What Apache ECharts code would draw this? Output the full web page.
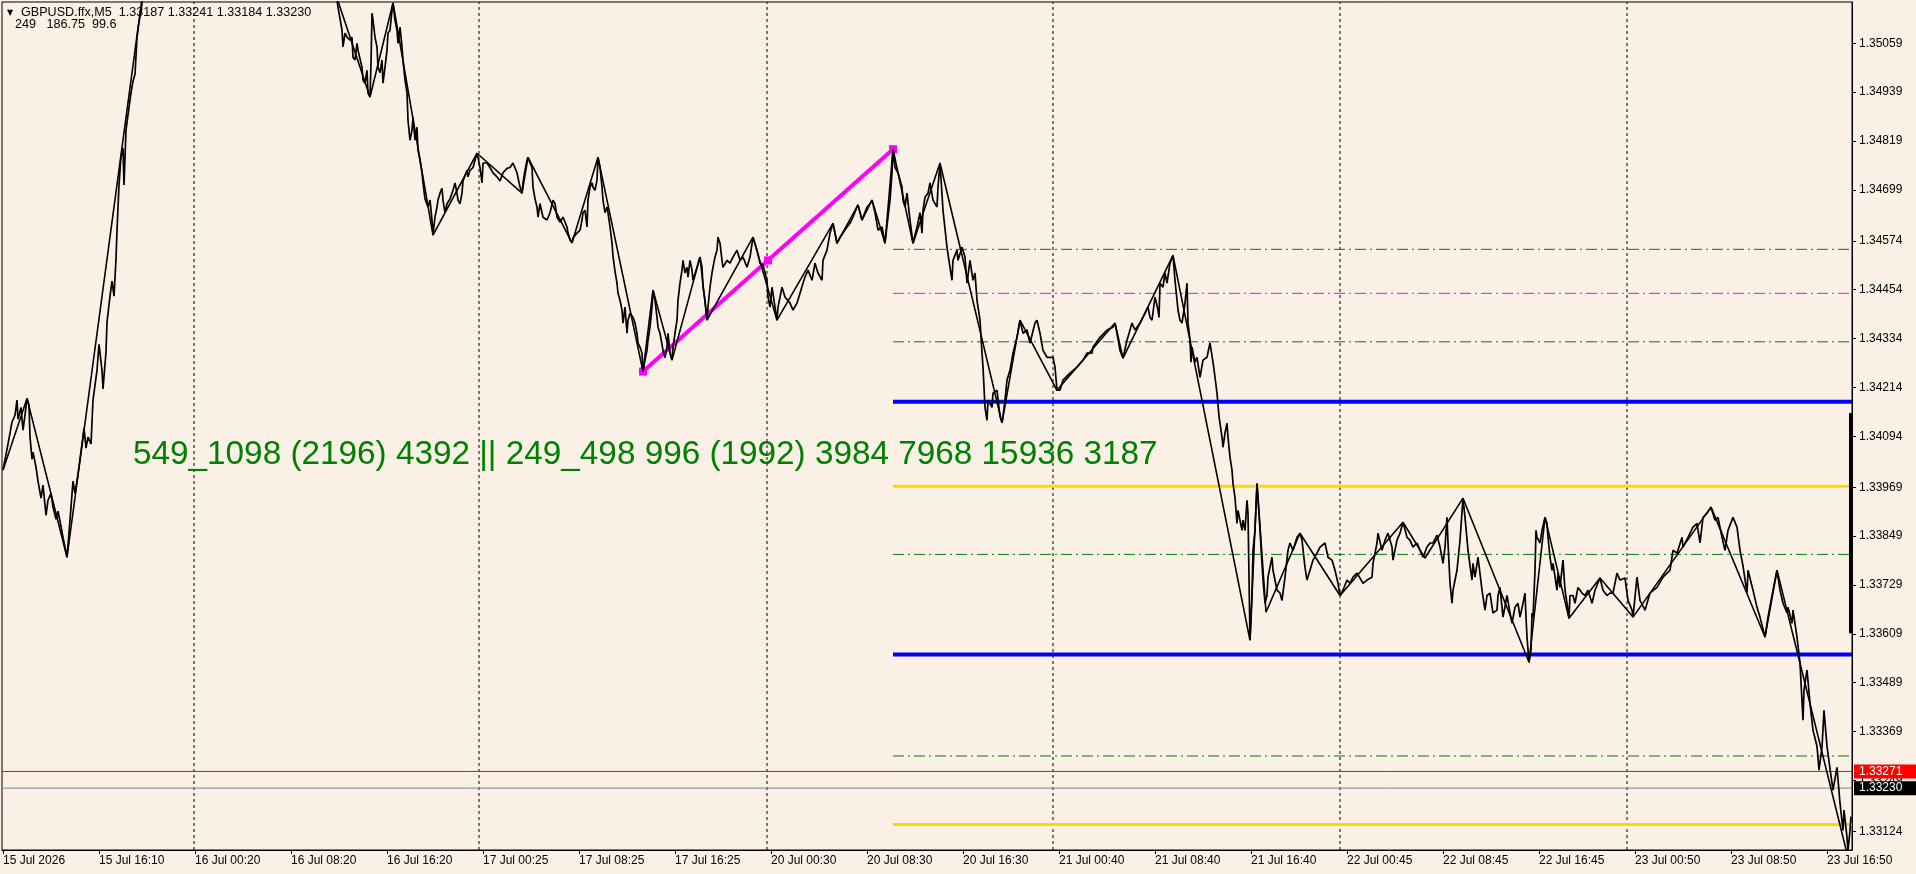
<!DOCTYPE html>
<html><head><meta charset="utf-8">
<script src="https://cdn.jsdelivr.net/npm/echarts@6/dist/echarts.min.js"></script>
<style>html,body{margin:0;padding:0;background:#faf0e6;}#c{width:1916px;height:874px;}</style>
</head><body><div id="c"></div><script>
// ---- data ----
const timeLabels = ["15 Jul 2026","15 Jul 16:10","16 Jul 00:20","16 Jul 08:20","16 Jul 16:20","17 Jul 00:25","17 Jul 08:25","17 Jul 16:25","20 Jul 00:30","20 Jul 08:30","20 Jul 16:30","21 Jul 00:40","21 Jul 08:40","21 Jul 16:40","22 Jul 00:45","22 Jul 08:45","22 Jul 16:45","23 Jul 00:50","23 Jul 08:50","23 Jul 16:50"];
const timeTickBars = [0,96,192,288,384,480,576,672,768,864,960,1056,1152,1248,1344,1440,1536,1632,1728,1824];
const priceTicks = [1.35059,1.34939,1.34819,1.34699,1.34574,1.34454,1.34334,1.34214,1.34094,1.33969,1.33849,1.33729,1.33609,1.33489,1.33369,1.33249,1.33124];
const dayGridBars = [191,476,764,1050,1337,1624];
const headerLine1 = "GBPUSD.ffx,M5  1.33187 1.33241 1.33184 1.33230";
const headerLine2 = "249   186.75  99.6";
const bigText = "549_1098 (2196) 4392 || 249_498 996 (1992) 3984 7968 15936 3187";

const priceLine = [
[0,1.34011],[5,1.34075],[9,1.34129],[12,1.34146],[14,1.34183],[15,1.34136],[18,1.34165],[20,1.34109],[22,1.34146],[24,1.34187],[26,1.34170],[27,1.34092],[29,1.34038],[30,1.34055],[33,1.34018],[35,1.33984],[38,1.33942],[40,1.33974],[43,1.33900],[45,1.33937],[48,1.33954],[50,1.33920],[53,1.33890],[55,1.33910],[58,1.33873],[60,1.33846],[64,1.33797],[67,1.33888],[70,1.33984],[72,1.33954],[75,1.34001],[79,1.34075],[81,1.34114],[83,1.34065],[85,1.34092],[88,1.34075],[90,1.34183],[94,1.34256],[96,1.34320],[99,1.34256],[100,1.34210],[103,1.34301],[104,1.34374],[107,1.34438],[109,1.34475],[111,1.34438],[113,1.34529],[114,1.34600],[116,1.34711],[118,1.34782],[120,1.34802],[121,1.34711],[123,1.34846],[125,1.34883],[128,1.34937],[130,1.34966],[132,1.34983],[133,1.35028],[134,1.35074],[136,1.35111],[138,1.35138],[140,1.35177],
[150,1.35400],[165,1.35680],[180,1.35950],[195,1.36194],[210,1.36000],[230,1.35850],[250,1.35920],[270,1.35780],[290,1.35650],[310,1.35480],[325,1.35300],
[334,1.35165],[335,1.35148],[339,1.35091],[340,1.35050],[342,1.35084],[344,1.35074],[347,1.35067],[349,1.35074],[350,1.35025],[352,1.35018],[354,1.35059],[355,1.35042],[359,1.35000],[360,1.34969],[362,1.34961],[364,1.34993],[365,1.34937],[367,1.34927],[368,1.35010],[369,1.35133],[370,1.35116],[372,1.35074],[374,1.35050],[375,1.35000],[377,1.34987],[379,1.35018],[380,1.34961],[382,1.35000],[384,1.35042],[385,1.35084],[387,1.35091],[389,1.35140],[390,1.35158],[392,1.35116],[394,1.35091],[395,1.35059],[397,1.35099],[399,1.35050],[400,1.35018],[402,1.34969],[404,1.34937],[405,1.34870],[407,1.34821],[409,1.34846],[410,1.34878],[412,1.34821],[414,1.34853],[415,1.34797],[417,1.34772],[419,1.34741],[420,1.34716],[422,1.34677],[424,1.34674],[425,1.34657],[427,1.34674],[429,1.34625],[430,1.34588],[432,1.34632],[434,1.34657],[435,1.34674],[437,1.34691],[439,1.34703],[440,1.34674],[442,1.34643],[444,1.34665],[447,1.34677],[450,1.34698],[452,1.34716],[454,1.34691],[455,1.34674],[457,1.34665],[459,1.34691],[460,1.34721],[464,1.34747],[465,1.34731],[467,1.34747],[470,1.34754],[474,1.34789],[475,1.34779],[477,1.34754],[479,1.34716],[480,1.34765],[484,1.34765],[487,1.34754],[490,1.34741],[494,1.34731],[497,1.34721],[500,1.34741],[504,1.34752],[507,1.34754],[510,1.34765],[512,1.34765],[514,1.34741],[517,1.34706],[519,1.34691],[520,1.34716],[522,1.34747],[524,1.34772],[525,1.34779],[527,1.34765],[529,1.34754],[530,1.34706],[532,1.34677],[534,1.34657],[535,1.34632],[537,1.34665],[539,1.34643],[540,1.34632],[544,1.34625],[547,1.34643],[550,1.34674],[552,1.34665],[554,1.34632],[557,1.34620],[560,1.34632],[564,1.34608],[565,1.34593],[567,1.34576],[569,1.34569],[570,1.34581],[574,1.34593],[577,1.34600],[579,1.34625],[580,1.34643],[582,1.34649],[584,1.34608],[585,1.34674],[587,1.34706],[589,1.34716],[590,1.34706],[592,1.34698],[594,1.34723],[595,1.34779],[597,1.34754],[599,1.34706],[600,1.34674],[602,1.34643],[604,1.34657],[605,1.34643],[607,1.34608],[609,1.34569],[610,1.34536],[612,1.34499],[614,1.34470],[615,1.34445],[617,1.34428],[619,1.34404],[620,1.34372],[622,1.34411],[624,1.34347],[625,1.34379],[627,1.34396],[630,1.34386],[632,1.34372],[634,1.34347],[635,1.34323],[637,1.34313],[639,1.34298],[640,1.34253],[642,1.34281],[644,1.34305],[645,1.34330],[647,1.34362],[649,1.34411],[650,1.34453],[652,1.34428],[654,1.34386],[655,1.34362],[657,1.34347],[660,1.34305],[662,1.34287],[664,1.34313],[665,1.34347],[667,1.34298],[669,1.34281],[670,1.34313],[672,1.34347],[674,1.34379],[675,1.34428],[677,1.34470],[679,1.34502],[680,1.34526],[682,1.34495],[684,1.34509],[685,1.34485],[687,1.34526],[689,1.34502],[690,1.34477],[694,1.34509],[697,1.34534],[699,1.34509],[700,1.34460],[702,1.34428],[704,1.34379],[705,1.34411],[707,1.34460],[709,1.34495],[710,1.34509],[712,1.34534],[714,1.34551],[715,1.34583],[717,1.34568],[719,1.34526],
[720,1.34509],[724,1.34526],[727,1.34519],[730,1.34534],[734,1.34551],[737,1.34526],[740,1.34534],[744,1.34509],[747,1.34534],[750,1.34583],[754,1.34551],[757,1.34519],[760,1.34514],[764,1.34477],[765,1.34436],[767,1.34411],[769,1.34460],[772,1.34411],[774,1.34379],[775,1.34411],[779,1.34460],[782,1.34436],[787,1.34421],[790,1.34404],[794,1.34421],[797,1.34445],[800,1.34470],[802,1.34485],[805,1.34502],[809,1.34477],[812,1.34519],[815,1.34495],[819,1.34477],[820,1.34526],[824,1.34551],[827,1.34593],[830,1.34617],[834,1.34568],[837,1.34583],[840,1.34593],[844,1.34608],[847,1.34617],[850,1.34632],[854,1.34657],[855,1.34662],[859,1.34625],[864,1.34657],[867,1.34665],[869,1.34674],[872,1.34643],[875,1.34600],[879,1.34608],[882,1.34568],[885,1.34632],[887,1.34674],[889,1.34741],[890,1.34799],[892,1.34754],[895,1.34741],[899,1.34706],[900,1.34674],[902,1.34657],[904,1.34691],[907,1.34625],[910,1.34568],[914,1.34608],[917,1.34643],[919,1.34593],[920,1.34649],[922,1.34681],[925,1.34691],[927,1.34716],[930,1.34674],[934,1.34657],[935,1.34706],[937,1.34765],[940,1.34649],[944,1.34558],[947,1.34509],[949,1.34477],[950,1.34526],[954,1.34551],[955,1.34526],[959,1.34558],[962,1.34534],[964,1.34470],[967,1.34526],[970,1.34477],[972,1.34495],[974,1.34428],[977,1.34379],[979,1.34298],[980,1.34264],[982,1.34165],[984,1.34133],[985,1.34183],[989,1.34165],[990,1.34200],[994,1.34207],[997,1.34143],[999,1.34127],[1000,1.34143],[1002,1.34183],[1004,1.34232],[1007,1.34256],[1010,1.34298],[1014,1.34337],[1017,1.34379],[1020,1.34347],[1024,1.34355],[1027,1.34323],[1032,1.34372],[1034,1.34379],[1037,1.34347],[1040,1.34305],[1044,1.34288],[1050,1.34288],[1052,1.34264],[1054,1.34207],[1057,1.34207],[1060,1.34232],[1067,1.34249],[1074,1.34264],[1080,1.34281],[1084,1.34298],[1089,1.34298],[1090,1.34313],[1097,1.34337],[1104,1.34355],[1110,1.34362],[1112,1.34372],[1114,1.34347],[1117,1.34305],[1120,1.34286],[1124,1.34330],[1129,1.34372],[1132,1.34355],[1137,1.34372],[1142,1.34396],[1145,1.34411],[1147,1.34386],[1149,1.34379],[1152,1.34436],[1155,1.34404],[1156,1.34386],[1157,1.34470],[1160,1.34460],[1162,1.34495],[1164,1.34470],[1167,1.34519],[1170,1.34538],[1172,1.34477],[1175,1.34404],[1177,1.34379],[1179,1.34372],[1182,1.34421],[1184,1.34470],[1185,1.34372],[1187,1.34330],[1188,1.34276],[1189,1.34313],[1192,1.34276],[1194,1.34288],[1197,1.34239],[1200,1.34281],[1204,1.34288],[1207,1.34323],[1210,1.34276],[1212,1.34239],[1214,1.34200],[1216,1.34143],[1219,1.34092],[1220,1.34067],[1222,1.34102],[1224,1.34126],[1225,1.34092],[1227,1.34043],[1229,1.34011],[1230,1.33978],[1232,1.33944],[1234,1.33880],[1235,1.33912],[1239,1.33863],[1240,1.33888],[1242,1.33863],[1244,1.33937],[1245,1.33905],[1247,1.33593],[1249,1.33703],[1250,1.33814],[1252,1.33863],[1254,1.33978],[1256,1.33905],[1259,1.33782],[1260,1.33741],[1262,1.33684],[1264,1.33703],[1265,1.33748],[1269,1.33797],[1270,1.33765],[1274,1.33716],[1277,1.33709],[1279,1.33691],[1282,1.33748],[1285,1.33814],[1287,1.33832],[1290,1.33814],[1294,1.33846],[1297,1.33856],[1299,1.33839],[1302,1.33772],[1304,1.33741],[1307,1.33765],[1310,1.33790],[1314,1.33807],[1317,1.33822],[1322,1.33832],[1325,1.33797],[1329,1.33790],[1332,1.33765],[1335,1.33733],[1337,1.33703],[1340,1.33716],[1344,1.33741],[1347,1.33733],[1350,1.33748],[1354,1.33758],[1360,1.33733],[1364,1.33741],[1369,1.33748],[1370,1.33782],[1374,1.33832],[1375,1.33856],[1379,1.33814],[1382,1.33839],[1385,1.33856],[1389,1.33822],[1390,1.33790],[1394,1.33839],[1397,1.33856],[1400,1.33883],[1404,1.33846],[1407,1.33839],[1410,1.33822],[1414,1.33832],[1417,1.33814],[1420,1.33797],[1424,1.33822],[1427,1.33832],[1430,1.33832],[1434,1.33851],[1437,1.33822],[1440,1.33782],[1442,1.33822],[1444,1.33895],[1445,1.33832],[1447,1.33733],[1449,1.33684],[1450,1.33716],[1454,1.33765],[1457,1.33839],[1460,1.33942],[1462,1.33895],[1465,1.33814],[1469,1.33741],[1470,1.33782],[1472,1.33748],[1475,1.33797],[1479,1.33716],[1482,1.33667],[1484,1.33703],[1487,1.33709],[1490,1.33660],[1494,1.33667],[1495,1.33703],[1497,1.33723],[1500,1.33650],[1504,1.33703],[1507,1.33660],[1509,1.33635],[1512,1.33674],[1515,1.33684],[1517,1.33650],[1520,1.33684],[1522,1.33709],[1523,1.33650],[1524,1.33601],[1526,1.33539],[1528,1.33569],[1529,1.33660],[1530,1.33650],[1532,1.33765],[1533,1.33863],[1534,1.33846],[1537,1.33832],[1539,1.33863],[1542,1.33895],[1544,1.33880],[1545,1.33846],[1547,1.33797],[1549,1.33765],[1550,1.33782],[1554,1.33716],[1555,1.33758],[1557,1.33723],[1560,1.33790],[1562,1.33716],[1565,1.33667],[1566,1.33647],[1567,1.33703],[1570,1.33703],[1572,1.33684],[1575,1.33723],[1579,1.33709],[1582,1.33703],[1585,1.33716],[1589,1.33684],[1592,1.33716],[1597,1.33746],[1600,1.33716],[1604,1.33703],[1607,1.33709],[1610,1.33709],[1614,1.33758],[1617,1.33741],[1622,1.33746],[1625,1.33691],[1629,1.33667],[1630,1.33650],[1634,1.33748],[1637,1.33691],[1642,1.33667],[1647,1.33709],[1654,1.33723],[1660,1.33748],[1664,1.33758],[1667,1.33765],[1670,1.33814],[1674,1.33807],[1679,1.33846],[1680,1.33822],[1685,1.33846],[1690,1.33871],[1694,1.33880],[1697,1.33832],[1700,1.33895],[1704,1.33905],[1708,1.33920],[1712,1.33888],[1715,1.33895],[1719,1.33846],[1722,1.33814],[1725,1.33863],[1730,1.33895],[1734,1.33871],[1737,1.33814],[1740,1.33776],[1744,1.33709],[1745,1.33765],[1750,1.33716],[1754,1.33674],[1757,1.33650],[1762,1.33601],[1765,1.33650],[1769,1.33703],[1774,1.33765],[1777,1.33716],[1780,1.33684],[1784,1.33660],[1785,1.33674],[1789,1.33635],[1790,1.33667],[1794,1.33601],[1797,1.33537],[1800,1.33397],[1801,1.33470],[1804,1.33520],[1807,1.33438],[1810,1.33372],[1814,1.33333],[1816,1.33274],[1819,1.33331],[1821,1.33421],[1824,1.33333],[1827,1.33278],[1830,1.33225],[1834,1.33281],[1837,1.33193],[1840,1.33126],[1841,1.33176],[1844,1.33109],[1845,1.33077],[1847,1.33126],[1848,1.33160]
];

const zigzag = [[0,1.34011],[24,1.34187],[64,1.33797],[195,1.36194],[367,1.34927],[390,1.35158],[430,1.34588],[474,1.34789],[519,1.34691],[525,1.34779],[569,1.34569],[595,1.34779],[640,1.34253],[650,1.34453],[669,1.34281],[697,1.34534],[704,1.34379],[750,1.34583],[774,1.34379],[830,1.34617],[834,1.34568],[855,1.34662],[859,1.34625],[869,1.34674],[882,1.34568],[890,1.34799],[910,1.34568],[937,1.34765],[999,1.34127],[1017,1.34379],[1054,1.34207],[1112,1.34372],[1120,1.34286],[1170,1.34538],[1247,1.33593],[1254,1.33978],[1263,1.33662],[1297,1.33856],[1337,1.33703],[1400,1.33883],[1422,1.33795],[1460,1.33942],[1526,1.33539],[1542,1.33895],[1566,1.33647],[1597,1.33746],[1630,1.33650],[1708,1.33920],[1762,1.33601],[1774,1.33765],[1845,1.33060]];

const trendLine = [[640,1.34253],[765,1.34526],[890,1.34799]];
const levelStartBar = 890;
const greenLevels = [1.34553,1.34326,1.33804,1.33309];
const magentaLevels = [1.34445];
const blueLevels = [1.34179,1.33558];
const goldLevels = [1.33971,1.33141];
const askPrice = 1.33271;
const bidPrice = 1.33230;
const rightBar = [[1848,1.34151],[1848,1.33610]];

// ---- chart ----
const X_MIN = -1, X_MAX = 1849, Y_MIN = 1.330781, Y_MAX = 1.351604;
const FONT = '"Liberation Sans", Arial, sans-serif';
const series = [];
dayGridBars.forEach(b => series.push({
  type:'line', data:[[b,Y_MIN],[b,Y_MAX]], showSymbol:false, silent:true, z:1,
  lineStyle:{color:'#000', width:1, type:[3,3]}
}));
function level(p, color, width, type){
  series.push({type:'line', data:[[levelStartBar,p],[X_MAX,p]], showSymbol:false, silent:true, z:2,
    lineStyle:{color:color, width:width, type:type}});
}
greenLevels.forEach(p => level(p,'#008000',1,[11,4,2,4]));
magentaLevels.forEach(p => level(p,'#ff00ff',1,[11,4,2,4]));
blueLevels.forEach(p => level(p,'#0000ff',4,'solid'));
goldLevels.forEach(p => level(p,'#ffd700',3,'solid'));
series.push({type:'line', data:[[X_MIN,askPrice],[X_MAX,askPrice]], showSymbol:false, silent:true, z:3,
  lineStyle:{color:'#ff0000', width:1},
  endLabel:{show:true, formatter:()=>askPrice.toFixed(5), color:'#fff', backgroundColor:'#ff0000',
    padding:[1,14,1,5], distance:2, fontSize:12, fontFamily:FONT, lineHeight:12}});
series.push({type:'line', data:[[X_MIN,bidPrice],[X_MAX,bidPrice]], showSymbol:false, silent:true, z:3,
  lineStyle:{color:'#778899', width:1},
  endLabel:{show:true, formatter:()=>bidPrice.toFixed(5), color:'#fff', backgroundColor:'#000',
    padding:[1,14,1,5], distance:2, fontSize:12, fontFamily:FONT, lineHeight:12}});
series.push({type:'line', data:trendLine, showSymbol:true, showAllSymbol:true, symbol:'rect', symbolSize:8, z:4,
  itemStyle:{color:'#ff00ff'}, lineStyle:{color:'#ff00ff', width:4}});
series.push({type:'line', data:priceLine, showSymbol:false, z:5, lineStyle:{color:'#000', width:1.7}});
series.push({type:'line', data:zigzag, showSymbol:false, z:6, lineStyle:{color:'#000', width:1.6}});
series.push({type:'line', data:rightBar, showSymbol:false, clip:false, z:6, lineStyle:{color:'#000', width:4}});

const chart = echarts.init(document.getElementById('c'));
chart.setOption({
  animation:false,
  backgroundColor:'#faf0e6',
  grid:{left:2, top:2, right:64, bottom:24, show:true, borderColor:'#000', borderWidth:1,
        backgroundColor:'transparent', containLabel:false, outerBoundsMode:'none'},
  xAxis:{type:'value', min:X_MIN, max:X_MAX,
    axisLine:{show:true, onZero:false, lineStyle:{color:'#000', width:1}},
    splitLine:{show:false},
    axisTick:{show:true, customValues:timeTickBars, length:4, lineStyle:{color:'#000'}},
    axisLabel:{customValues:timeTickBars, formatter:v=>timeLabels[Math.round(v/96)] || '',
      align:'left', margin:5, color:'#000', fontSize:12, fontFamily:FONT}},
  yAxis:{type:'value', position:'right', min:Y_MIN, max:Y_MAX, scale:true,
    axisLine:{show:true, onZero:false, lineStyle:{color:'#000', width:1}},
    splitLine:{show:false},
    axisTick:{show:true, customValues:priceTicks, length:4, lineStyle:{color:'#000'}},
    axisLabel:{customValues:priceTicks, formatter:v=>Number(v).toFixed(5),
      margin:7, color:'#000', fontSize:12, fontFamily:FONT}},
  graphic:[
    {type:'text', x:7, y:13, z:100, style:{text:'\u25BC', fontSize:8, fontFamily:'"DejaVu Sans"', fill:'#000', verticalAlign:'middle'}},
    {type:'text', x:21, y:13, z:100, style:{text:headerLine1, fontSize:12.6, fontFamily:FONT, fill:'#000', verticalAlign:'middle'}},
    {type:'text', x:15, y:25, z:100, style:{text:headerLine2, fontSize:12.6, fontFamily:FONT, fill:'#000', verticalAlign:'middle'}},
    {type:'text', x:133, y:455, z:100, style:{text:bigText, fontSize:33.3, fontFamily:FONT, fill:'#008000', verticalAlign:'middle'}}
  ],
  series:series
});
</script></body></html>
